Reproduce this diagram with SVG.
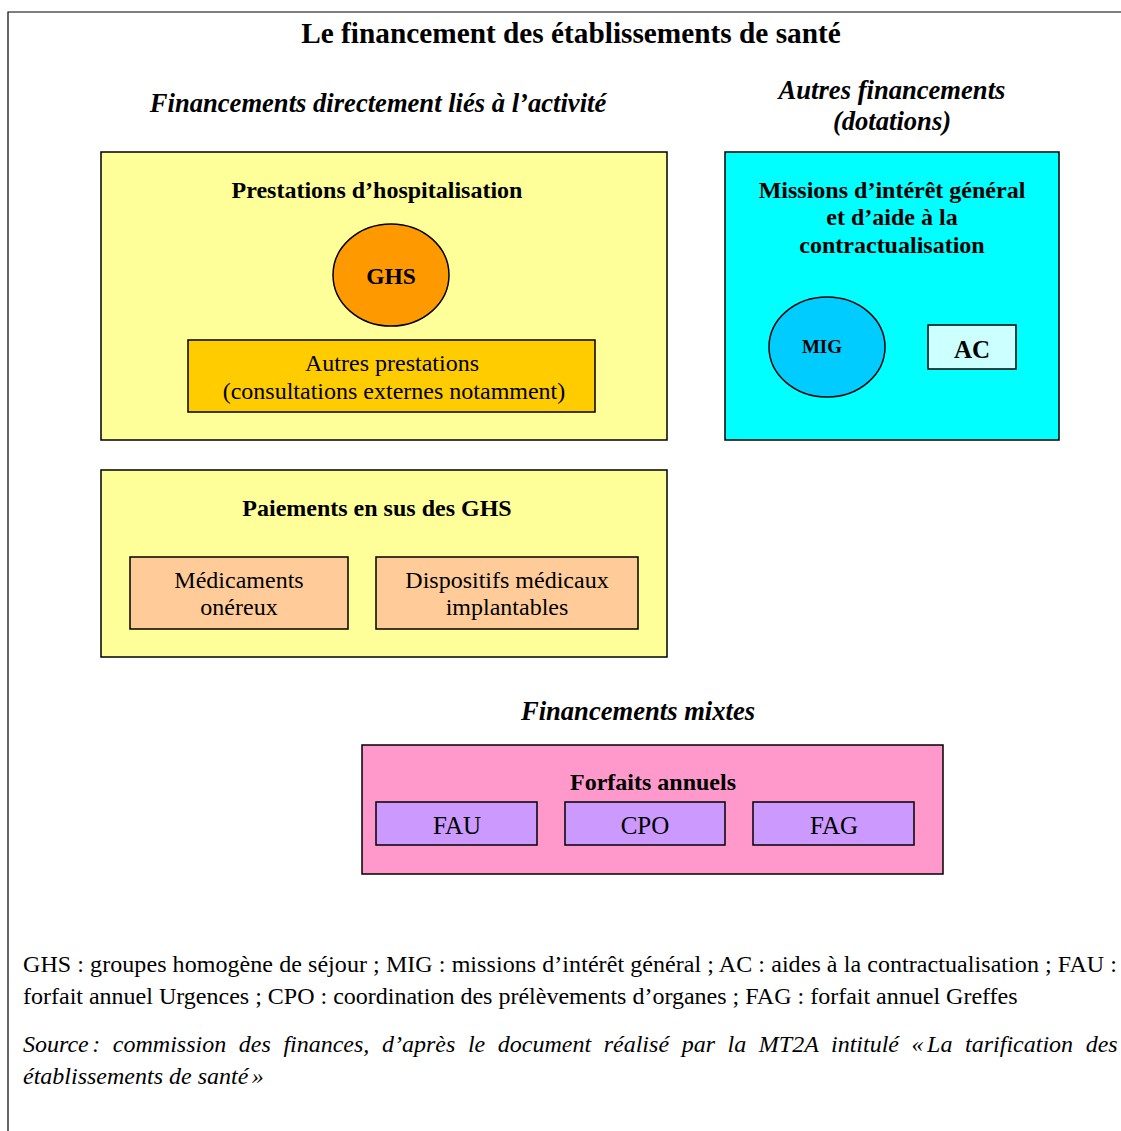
<svg xmlns="http://www.w3.org/2000/svg" width="1121" height="1131" viewBox="0 0 1121 1131">
<style>
text{font-family:"Liberation Serif","Times New Roman",serif;fill:#000}
.b{font-weight:bold}
.i{font-style:italic}
.c{text-anchor:middle}
.box{stroke:#000;stroke-width:1.5}
</style>
<rect width="1121" height="1131" fill="#fff"/>
<g id="frame" fill="none" stroke="#000" stroke-width="1.2">
<path d="M8,1131 V12 H1121"/>
</g>
<g id="headers">
<text class="b c" x="571" y="43" font-size="29.3">Le financement des établissements de santé</text>
<text class="b i c" x="378" y="112" font-size="26.6">Financements directement liés à l’activité</text>
<text class="b i c" x="892" y="99" font-size="26.6">Autres financements</text>
<text class="b i c" x="892" y="130" font-size="26.6">(dotations)</text>
<text class="b i c" x="638" y="720" font-size="26.6">Financements mixtes</text>
</g>
<g id="prestations">
<rect class="box" x="101" y="152" width="566" height="288" fill="#FFFF99"/>
<text class="b c" x="377" y="198" font-size="24">Prestations d’hospitalisation</text>
</g>
<g id="ghs">
<ellipse class="box" cx="391" cy="275" rx="58" ry="51" fill="#FF9900"/>
<text class="b c" x="391" y="284" font-size="23.5">GHS</text>
</g>
<g id="autres-prestations">
<rect class="box" x="188" y="340" width="407" height="72" fill="#FFCC00"/>
<text class="c" x="392" y="371" font-size="24">Autres prestations</text>
<text class="c" x="394" y="399" font-size="24">(consultations externes notamment)</text>
</g>
<g id="missions">
<rect class="box" x="725" y="152" width="334" height="288" fill="#00FFFF"/>
<text class="b c" x="892" y="198" font-size="24">Missions d’intérêt général</text>
<text class="b c" x="892" y="225" font-size="24">et d’aide à la</text>
<text class="b c" x="892" y="253" font-size="24">contractualisation</text>
</g>
<g id="mig">
<ellipse class="box" cx="827" cy="347" rx="58" ry="50" fill="#00CCFF"/>
<text class="b c" x="822" y="353" font-size="19">MIG</text>
</g>
<g id="ac">
<rect class="box" x="928" y="325" width="88" height="44" fill="#CCFFFF"/>
<text class="b c" x="972" y="358" font-size="25">AC</text>
</g>
<g id="paiements">
<rect class="box" x="101" y="470" width="566" height="187" fill="#FFFF99"/>
<text class="b c" x="377" y="516" font-size="24">Paiements en sus des GHS</text>
</g>
<g id="medicaments">
<rect class="box" x="130" y="557" width="218" height="72" fill="#FFCC99"/>
<text class="c" x="239" y="588" font-size="24">Médicaments</text>
<text class="c" x="239" y="615" font-size="24">onéreux</text>
</g>
<g id="dispositifs">
<rect class="box" x="376" y="557" width="262" height="72" fill="#FFCC99"/>
<text class="c" x="507" y="588" font-size="24">Dispositifs médicaux</text>
<text class="c" x="507" y="615" font-size="24">implantables</text>
</g>
<g id="forfaits">
<rect class="box" x="362" y="745" width="581" height="129" fill="#FF99CC"/>
<text class="b c" x="653" y="790" font-size="24">Forfaits annuels</text>
</g>
<g id="fau">
<rect class="box" x="376" y="802" width="161" height="43" fill="#CC99FF"/>
<text class="c" x="457" y="834" font-size="25">FAU</text>
</g>
<g id="cpo">
<rect class="box" x="565" y="802" width="160" height="43" fill="#CC99FF"/>
<text class="c" x="645" y="834" font-size="25">CPO</text>
</g>
<g id="fag">
<rect class="box" x="753" y="802" width="161" height="43" fill="#CC99FF"/>
<text class="c" x="834" y="834" font-size="25">FAG</text>
</g>
<g id="connectors"></g>
<g id="notes">
<text x="23" y="972" font-size="24" textLength="1094" lengthAdjust="spacing">GHS : groupes homogène de séjour ; MIG : missions d’intérêt général ; AC : aides à la contractualisation ; FAU :</text>
<text x="23" y="1004" font-size="24">forfait annuel Urgences ; CPO : coordination des prélèvements d’organes ; FAG : forfait annuel Greffes</text>
<text class="i" x="23" y="1052" font-size="24" word-spacing="6.6">Source<tspan word-spacing="0" font-size="14"> </tspan>: commission des finances, d’après le document réalisé par la MT2A intitulé «<tspan word-spacing="0" font-size="14"> </tspan>La tarification des</text>
<text class="i" x="23" y="1084" font-size="24">établissements de santé<tspan font-size="14"> </tspan>»</text>
</g>
</svg>
